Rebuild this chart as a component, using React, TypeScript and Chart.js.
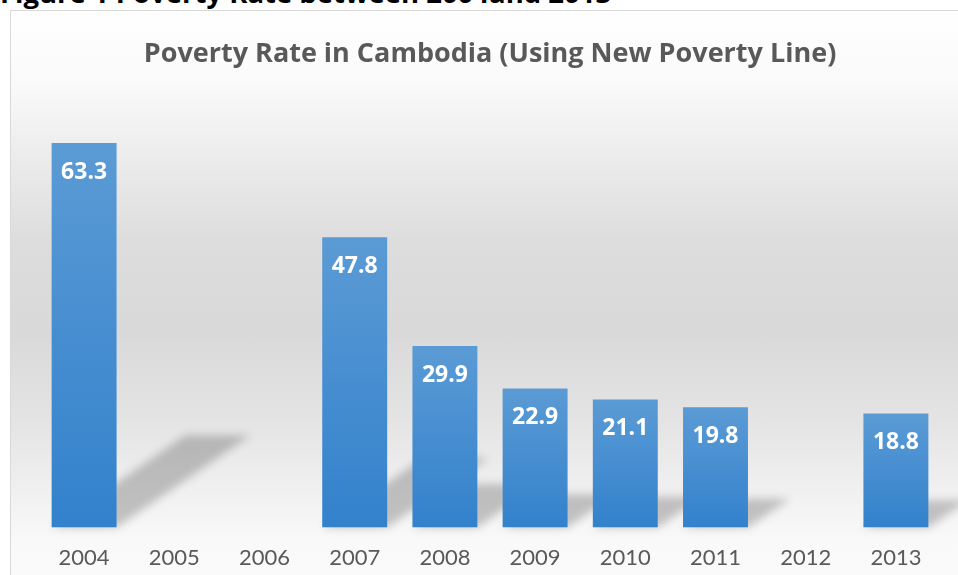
import React, { useEffect, useRef } from "react";
import { Chart, registerables } from "chart.js";

Chart.register(...registerables);

const years = ["2004", "2005", "2006", "2007", "2008", "2009", "2010", "2011", "2012", "2013"];
const povertyRates: (number | null)[] = [63.3, null, null, 47.8, 29.9, 22.9, 21.1, 19.8, null, 18.8];
const chartTitle = "Poverty Rate in Cambodia (Using New Poverty Line)";
const figureCaption = "Figure 1 Poverty Rate between 2004and 2013";
const yMax = 70;

const shadowPlugin = {
  id: "perspectiveShadow",
  beforeDatasetsDraw(chart: any) {
    const { ctx } = chart;
    const meta = chart.getDatasetMeta(0);
    ctx.save();
    ctx.filter = "blur(4px)";
    ctx.fillStyle = "rgba(0,0,0,0.21)";
    ctx.beginPath();
    meta.data.forEach((bar: any, i: number) => {
      if (povertyRates[i] == null) return;
      const p = bar.getProps(["x", "y", "base", "width"], true);
      const h = p.base - p.y;
      const dy = h * 0.24;
      const dx = dy * 1.45;
      const l = p.x - p.width / 2;
      const r = p.x + p.width / 2;
      ctx.moveTo(l, p.base);
      ctx.lineTo(r, p.base);
      ctx.lineTo(r + dx, p.base - dy);
      ctx.lineTo(l + dx, p.base - dy);
      ctx.closePath();
    });
    ctx.fill();
    ctx.restore();
  },
};

const valueLabelPlugin = {
  id: "valueLabels",
  afterDatasetsDraw(chart: any) {
    const { ctx } = chart;
    const meta = chart.getDatasetMeta(0);
    ctx.save();
    ctx.fillStyle = "#ffffff";
    ctx.font = "bold 23px 'Open Sans'";
    ctx.textAlign = "center";
    ctx.textBaseline = "middle";
    meta.data.forEach((bar: any, i: number) => {
      const v = povertyRates[i];
      if (v == null) return;
      const p = bar.getProps(["x", "y"], true);
      ctx.fillText(v.toFixed(1), p.x, p.y + 29);
    });
    ctx.restore();
  },
};

export default function App() {
  const canvasRef = useRef<HTMLCanvasElement | null>(null);

  useEffect(() => {
    const canvas = canvasRef.current;
    if (!canvas) return;
    const chart = new Chart(canvas, {
      type: "bar",
      data: {
        labels: years,
        datasets: [
          {
            data: povertyRates as any,
            backgroundColor: (c: any) => {
              const ch = c.chart;
              if (!ch.chartArea || c.type !== "data" || c.raw == null) return "#4a8fd2";
              const ys = ch.scales.y;
              const top = ys.getPixelForValue(c.raw);
              const bottom = ys.getPixelForValue(0);
              const g = ch.ctx.createLinearGradient(0, top, 0, bottom);
              g.addColorStop(0, "#5b9bd5");
              g.addColorStop(1, "#3381cc");
              return g;
            },
            borderWidth: 0,
            categoryPercentage: 0.8,
            barPercentage: 0.9,
          },
        ],
      },
      options: {
        responsive: false,
        animation: false,
        layout: { padding: { left: 28, right: 28, top: 0, bottom: 3 } },
        plugins: {
          legend: { display: false },
          tooltip: { enabled: false },
          title: {
            display: true,
            text: chartTitle,
            color: "#595959",
            font: { family: "'Open Sans'", size: 27, weight: "bold" },
            padding: { top: 27, bottom: 32 },
          },
        },
        scales: {
          x: {
            grid: { display: false, drawTicks: false },
            border: { display: false },
            ticks: {
              color: "#595959",
              font: { family: "Lato", size: 22 },
              padding: 17,
            },
          },
          y: { display: false, min: 0, max: yMax },
        },
      },
      plugins: [shadowPlugin, valueLabelPlugin],
    });
    return () => chart.destroy();
  }, []);

  return (
    <div
      style={{
        position: "absolute",
        left: 0,
        top: 0,
        width: 958,
        height: 575,
        overflow: "hidden",
        background: "#ffffff",
      }}
    >
      <div
        style={{
          position: "absolute",
          left: 0,
          top: -21,
          whiteSpace: "nowrap",
          fontFamily: "'Open Sans'",
          fontWeight: "bold",
          fontSize: 27.5,
          lineHeight: "27px",
          color: "#000000",
        }}
      >
        {figureCaption}
      </div>
      <div
        style={{
          position: "absolute",
          left: 10,
          top: 10,
          width: 980,
          height: 600,
          boxSizing: "border-box",
          border: "1px solid #d9d9d9",
          background:
            "linear-gradient(to bottom, #ffffff 0px, #fafafa 70px, #ededed 140px, #dddddd 230px, #d9d9d9 320px, #e4e4e4 410px, #f2f2f2 490px, #f9f9f9 530px, #fbfbfb 600px)",
        }}
      >
        <canvas
          ref={canvasRef}
          width={958}
          height={580}
          style={{ position: "absolute", left: 0, top: 0, width: 958, height: 580 }}
        />
      </div>
    </div>
  );
}
